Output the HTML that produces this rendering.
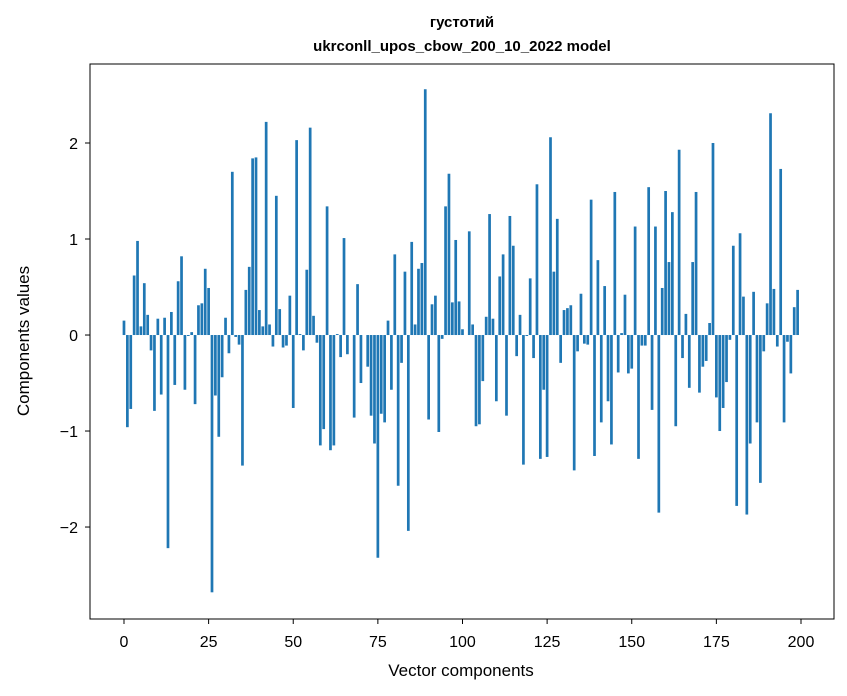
<!DOCTYPE html>
<html><head><meta charset="utf-8"><style>
body{margin:0;background:#fff;}
svg{display:block;font-family:"Liberation Sans","DejaVu Sans",sans-serif;}
</style></head><body>
<svg id="chart" width="847" height="696">
<text x="462" y="27" text-anchor="middle" font-size="15" font-weight="bold">густотий</text>
<text x="462" y="51" text-anchor="middle" font-size="15" font-weight="bold">ukrconll_upos_cbow_200_10_2022 model</text>
<g id="bars"></g>
<g id="xticks"></g>
<g id="yticks"></g>
<rect x="90" y="64" width="744" height="555" fill="none" stroke="#000" stroke-width="1"/>
<text x="461" y="676" text-anchor="middle" font-size="17">Vector components</text>
<text transform="translate(29,341) rotate(-90)" text-anchor="middle" font-size="17">Components values</text>
</svg>
<script>
const values = [0.15,-0.96,-0.77,0.62,0.98,0.09,0.54,0.21,-0.16,-0.79,
0.17,-0.62,0.18,-2.22,0.24,-0.52,0.56,0.82,-0.57,-0.01,
0.03,-0.72,0.31,0.33,0.69,0.49,-2.68,-0.63,-1.06,-0.44,
0.18,-0.19,1.70,-0.02,-0.10,-1.36,0.47,0.71,1.84,1.85,
0.26,0.09,2.22,0.11,-0.12,1.45,0.27,-0.13,-0.11,0.41,
-0.76,2.03,0.01,-0.16,0.68,2.16,0.20,-0.08,-1.15,-0.98,
1.34,-1.20,-1.15,0.01,-0.23,1.01,-0.20,0.0,-0.86,0.53,
-0.50,0.0,-0.33,-0.84,-1.13,-2.32,-0.82,-0.91,0.15,-0.57,
0.84,-1.57,-0.29,0.66,-2.04,0.97,0.11,0.69,0.75,2.56,
-0.88,0.32,0.41,-1.01,-0.04,1.34,1.68,0.34,0.99,0.35,
0.06,0.0,1.08,0.11,-0.95,-0.93,-0.48,0.19,1.26,0.17,
-0.69,0.61,0.84,-0.84,1.24,0.93,-0.22,0.21,-1.35,-0.01,
0.59,-0.24,1.57,-1.29,-0.57,-1.27,2.06,0.66,1.21,-0.29,
0.26,0.28,0.31,-1.41,-0.17,0.43,-0.09,-0.10,1.41,-1.26,
0.78,-0.91,0.51,-0.69,-1.14,1.49,-0.39,0.02,0.42,-0.40,
-0.35,1.13,-1.29,-0.11,-0.11,1.54,-0.78,1.13,-1.85,0.49,
1.50,0.76,1.28,-0.95,1.93,-0.24,0.22,-0.55,0.76,1.49,
-0.60,-0.33,-0.27,0.125,2.00,-0.65,-1.00,-0.76,-0.49,-0.05,
0.93,-1.78,1.06,0.40,-1.87,-1.13,0.45,-0.91,-1.54,-0.17,
0.33,2.31,0.48,-0.12,1.73,-0.91,-0.07,-0.40,0.29,0.47];
const xTickValues = [0,25,50,75,100,125,150,175,200];
const yTickValues = [-2,-1,0,1,2];
const NS="http://www.w3.org/2000/svg";
const X0=90,X1=834,Y0=64,Y1=619,xMin=-10.04,xMax=209.75,yMin=-2.958,yMax=2.823;
function xs(v){return X0+(v-xMin)/(xMax-xMin)*(X1-X0);}
function ys(v){return Y1-(v-yMin)/(yMax-yMin)*(Y1-Y0);}
const bars=document.getElementById('bars');
values.forEach((v,i)=>{
  const r=document.createElementNS(NS,'rect');
  const xa=xs(i-0.4),xb=xs(i+0.4),y0=ys(0),y1=ys(v);
  r.setAttribute('x',xa);r.setAttribute('width',xb-xa);
  r.setAttribute('y',Math.min(y0,y1));r.setAttribute('height',Math.abs(y1-y0));
  r.setAttribute('fill','#1f77b4');
  
  
  bars.appendChild(r);
});
const xt=document.getElementById('xticks');
xTickValues.forEach(t=>{
  const l=document.createElementNS(NS,'line');
  l.setAttribute('x1',xs(t));l.setAttribute('x2',xs(t));l.setAttribute('y1',Y1);l.setAttribute('y2',Y1+5);l.setAttribute('stroke','#000');
  
  
  xt.appendChild(l);
  const tx=document.createElementNS(NS,'text');
  tx.setAttribute('x',xs(t));tx.setAttribute('y',Y1+28);tx.setAttribute('text-anchor','middle');tx.setAttribute('font-size','16');
  tx.textContent=t;
  
  
  xt.appendChild(tx);
});
const yt=document.getElementById('yticks');
yTickValues.forEach(t=>{
  const l=document.createElementNS(NS,'line');
  l.setAttribute('x1',X0-5);l.setAttribute('x2',X0);l.setAttribute('y1',ys(t));l.setAttribute('y2',ys(t));l.setAttribute('stroke','#000');
  
  
  yt.appendChild(l);
  const tx=document.createElementNS(NS,'text');
  tx.setAttribute('x',X0-12);tx.setAttribute('y',ys(t)+6);tx.setAttribute('text-anchor','end');tx.setAttribute('font-size','16');
  tx.textContent=t<0?'\u2212'+(-t):String(t);
  
  
  yt.appendChild(tx);
});
</script>
</body></html>
